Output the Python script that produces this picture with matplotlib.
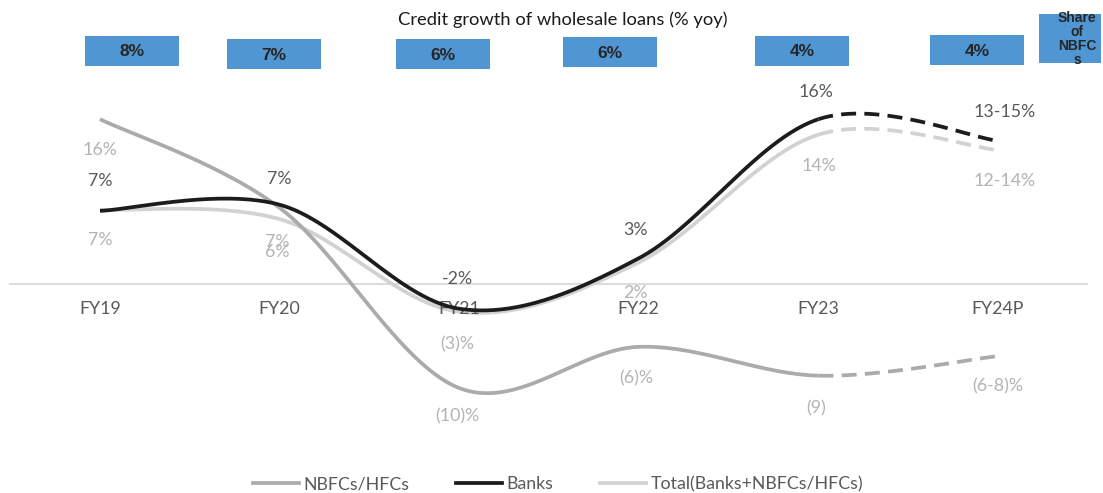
import numpy as np
import matplotlib
matplotlib.use("Agg")
import matplotlib.pyplot as plt
from matplotlib.patches import Rectangle
from matplotlib.lines import Line2D

# ---------------- data ----------------
categories = ["FY19", "FY20", "FY21", "FY22", "FY23", "FY24P"]
banks = [7.1, 7.7, -2.4, 2.5, 16.0, 13.9]
nbfc = [16.0, 7.4, -10.1, -6.1, -8.9, -7.0]
total = [7.2, 6.3, -2.7, 2.1, 14.5, 13.0]
banks_labels = ["7%", "7%", "-2%", "3%", "16%", "13-15%"]
nbfc_labels = ["16%", "6%", "(10)%", "(6)%", "(9)", "(6-8)%"]
total_labels = ["7%", "7%", "(3)%", "2%", "14%", "12-14%"]
nbfc_share = ["8%", "7%", "6%", "6%", "4%", "4%"]
series_names = ["NBFCs/HFCs", "Banks", "Total(Banks+NBFCs/HFCs)"]
title = "Credit growth of wholesale loans (% yoy)"

# ---------------- layout ----------------
W, H = 1103, 493
DPI = 100
x0_px, step_px = 100, 179.6
zero_px, px_per_pct = 284, 10.3

fig = plt.figure(figsize=(W / DPI, H / DPI), dpi=DPI)
ax = fig.add_axes([0, 0, 1, 1])
ax.set_xlim(-x0_px / step_px, (W - x0_px) / step_px)
ax.set_ylim((zero_px - H) / px_per_pct, zero_px / px_per_pct)
ax.axis("off")

FONT = "Lato"
FS = 12.8
C_BANK = "#1c1c1c"
C_NBFC = "#ababab"
C_TOT = "#d2d2d2"
C_LBL_DARK = "#595959"
C_LBL_LIGHT = "#b3b3b3"


def smooth(xs, ys, n=60):
    """Catmull-Rom spline (Excel-like smoothing), returned per segment."""
    xs = np.asarray(xs, float)
    ys = np.asarray(ys, float)
    P = np.column_stack([xs, ys])
    P = np.vstack([P[0], P, P[-1]])
    segs = []
    for i in range(1, len(P) - 2):
        p0, p1, p2, p3 = P[i - 1], P[i], P[i + 1], P[i + 2]
        c1 = p1 + (p2 - p0) / 6
        c2 = p2 - (p3 - p1) / 6
        t = np.linspace(0, 1, n)[:, None]
        seg = ((1 - t) ** 3) * p1 + 3 * ((1 - t) ** 2) * t * c1 + 3 * (1 - t) * t ** 2 * c2 + t ** 3 * p2
        segs.append(seg)
    return segs


xs = np.arange(len(categories))

# zero axis line
ax.plot([(10 - x0_px) / step_px, (1087 - x0_px) / step_px], [0, 0], color="#d9d9d9", lw=1.3, zorder=1)

for vals, col, lw, z in [(total, C_TOT, 2.7, 2), (nbfc, C_NBFC, 2.7, 3), (banks, C_BANK, 2.7, 4)]:
    segs = smooth(xs, vals)
    solid = np.vstack(segs[:-1])
    ax.plot(solid[:, 0], solid[:, 1], color=col, lw=lw, solid_capstyle="butt", zorder=z)
    ax.plot(segs[-1][:, 0], segs[-1][:, 1], color=col, lw=lw, ls=(0, (4.0, 2.2)), zorder=z)

# category labels
for i, c in enumerate(categories):
    ax.annotate(c, (xs[i], 0), xytext=(0, -25), textcoords="offset pixels",
                ha="center", va="center", fontsize=FS, color=C_LBL_DARK, family=FONT)

# data labels (offsets in pixels)
bank_off = [(0, 30), (0, 26), (-2, 30), (-3, 28), (-2, 27), (7, 29)]
nbfc_off = [(0, -31), (-2, -44), (-2, -28), (-3, -32), (-2, -33), (0, -30)]
tot_off = [(0, -30), (-2, -23), (-2, -33), (-3, -31), (0, -31), (7, -31)]
for vals, labs, offs, col in [(banks, banks_labels, bank_off, C_LBL_DARK),
                              (nbfc, nbfc_labels, nbfc_off, C_LBL_LIGHT),
                              (total, total_labels, tot_off, C_LBL_LIGHT)]:
    for i, (v, lab) in enumerate(zip(vals, labs)):
        ax.annotate(lab, (xs[i], v), xytext=offs[i], textcoords="offset pixels",
                    ha="center", va="center", fontsize=FS, color=col, family=FONT, zorder=6)

# title
fig.text(563 / W, 1 - 20 / H, title, ha="center", va="center", fontsize=13.2, color="#1a1a1a", family=FONT)

# share boxes (centre px, width, height)
BLUE = "#5096d2"
box_cx = [132, 274, 443, 610, 802, 977]
box_cy = [51, 54, 54, 52, 51, 50]
bw, bh = 94, 29
for cx, cy, txt in zip(box_cx, box_cy, nbfc_share):
    fig.patches.append(Rectangle(((cx - bw / 2) / W, 1 - (cy + bh / 2) / H), bw / W, bh / H,
                                 transform=fig.transFigure, facecolor=BLUE, edgecolor="none"))
    fig.text(cx / W, 1 - (cy + 1) / H, txt, ha="center", va="center", fontsize=12.5,
             fontweight="bold", color="#262626", family="Liberation Sans")
fig.patches.append(Rectangle((1039 / W, 1 - 63 / H), 62 / W, 49 / H,
                             transform=fig.transFigure, facecolor=BLUE, edgecolor="none"))
fig.text(1077 / W, 1 - 39 / H, "Share\nof\nNBFC\ns", ha="center", va="center", fontsize=10,
         fontweight="bold", color="#262626", family="Liberation Sans", linespacing=1.02)

# legend
handles = [Line2D([], [], color=C_NBFC, lw=2.7),
           Line2D([], [], color=C_BANK, lw=2.7),
           Line2D([], [], color=C_TOT, lw=2.7)]
leg = fig.legend(handles, series_names, loc="center", bbox_to_anchor=(558 / W, 1 - 484 / H),
                 ncol=3, frameon=False, handlelength=2.6, handletextpad=0.25, columnspacing=2.6,
                 prop={"family": FONT, "size": FS})
for t in leg.get_texts():
    t.set_color(C_LBL_DARK)

fig.savefig("out.png", dpi=DPI)
